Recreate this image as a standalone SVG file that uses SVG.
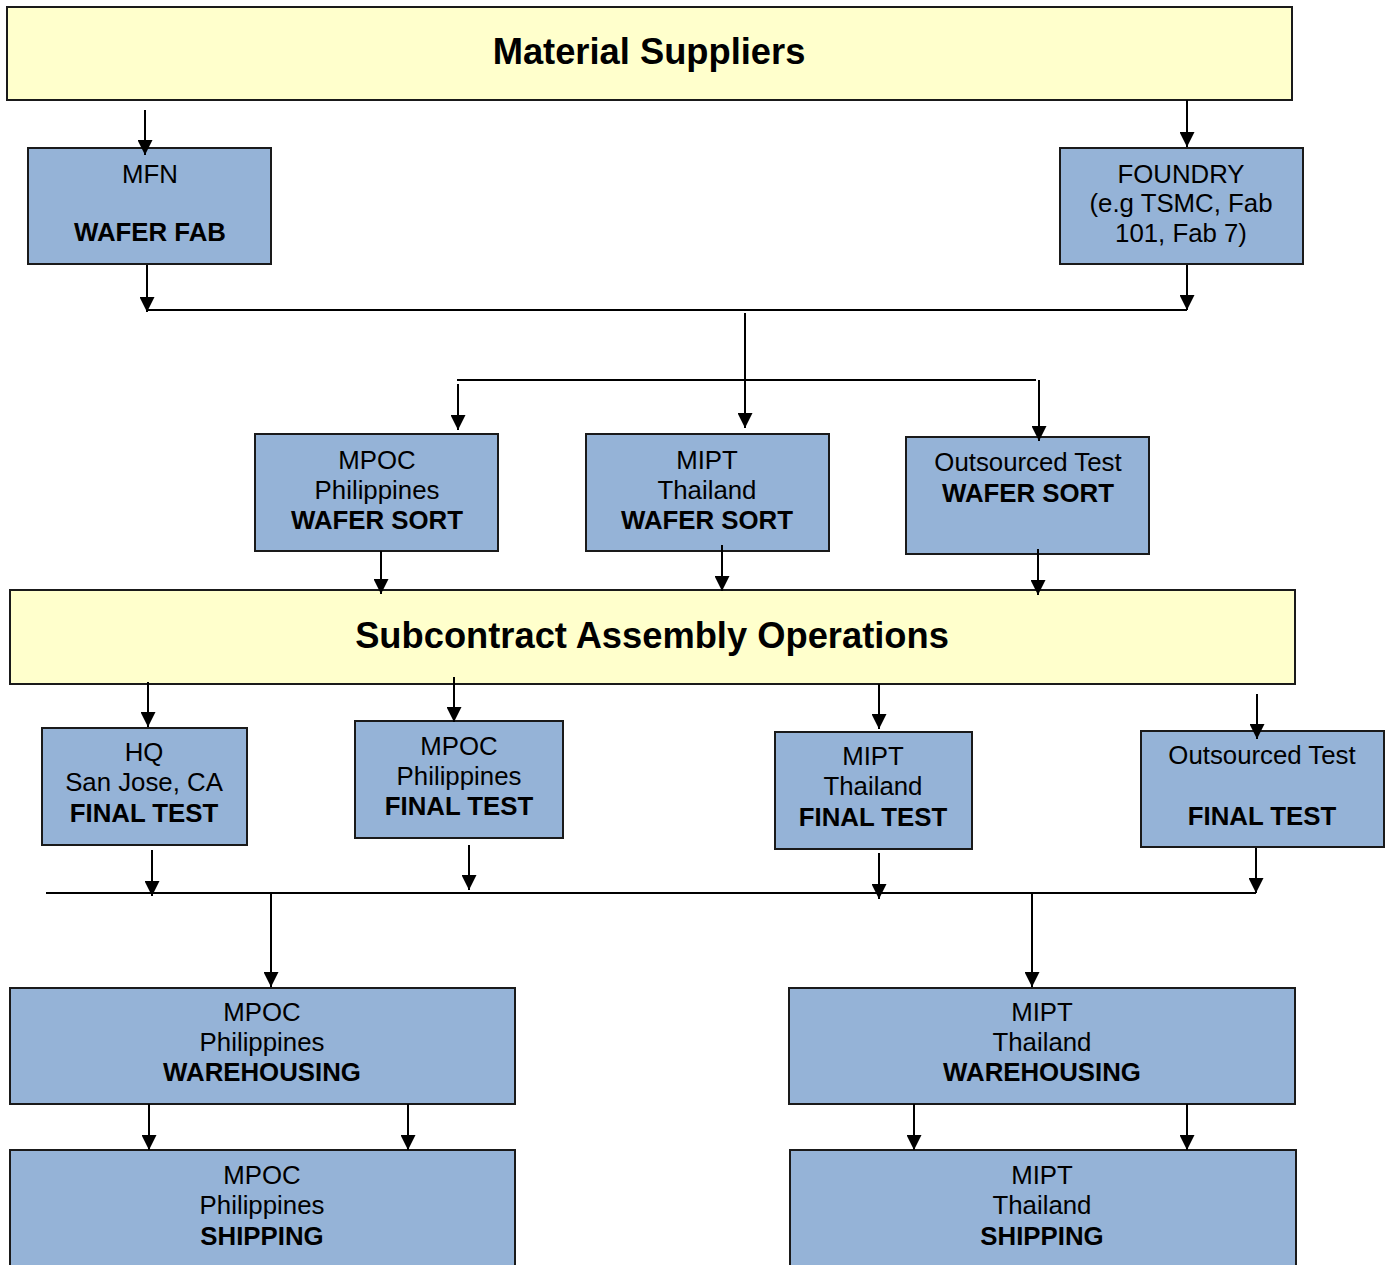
<svg xmlns="http://www.w3.org/2000/svg" width="1390" height="1265" viewBox="0 0 1390 1265">
<defs>
<marker id="ah" markerUnits="userSpaceOnUse" markerWidth="15" markerHeight="15" refX="15" refY="7.5" orient="auto">
<path d="M0,0 L15,7.5 L0,15 z" fill="#000"/>
</marker>
<style>
.band{fill:#FFFFCC;stroke:#1a1a1a;stroke-width:2}
.box{fill:#95B3D7;stroke:#1a1a1a;stroke-width:2}
text{font-family:"Liberation Sans",Arial,sans-serif;font-size:25.8px;fill:#000;text-anchor:middle}
.b{font-weight:bold}
.title{font-weight:bold;font-size:36.3px}
.c line,.c path{stroke:#000;stroke-width:2;fill:none}
.a{marker-end:url(#ah)}
</style>
</defs>
<rect width="1390" height="1265" fill="#fff"/>

<g id="material-suppliers">
<rect class="band" x="7" y="7" width="1285" height="93"/>
<text class="title" x="649" y="64">Material Suppliers</text>
</g>

<g id="mfn">
<rect class="box" x="28" y="148" width="243" height="116"/>
<text x="150" y="183">MFN</text>
<text class="b" x="150" y="241">WAFER FAB</text>
</g>

<g id="foundry">
<rect class="box" x="1060" y="148" width="243" height="116"/>
<text x="1181" y="183">FOUNDRY</text>
<text x="1181" y="212">(e.g TSMC, Fab</text>
<text x="1181" y="242">101, Fab 7)</text>
</g>

<g id="mpoc-wafer-sort">
<rect class="box" x="255" y="434" width="243" height="117"/>
<text x="377" y="469">MPOC</text>
<text x="377" y="499">Philippines</text>
<text class="b" x="377" y="529">WAFER SORT</text>
</g>

<g id="mipt-wafer-sort">
<rect class="box" x="586" y="434" width="243" height="117"/>
<text x="707" y="469">MIPT</text>
<text x="707" y="499">Thailand</text>
<text class="b" x="707" y="529">WAFER SORT</text>
</g>

<g id="outsourced-wafer-sort">
<rect class="box" x="906" y="437" width="243" height="117"/>
<text x="1028" y="471">Outsourced Test</text>
<text class="b" x="1028" y="502">WAFER SORT</text>
</g>

<g id="subcontract-assembly">
<rect class="band" x="10" y="590" width="1285" height="94"/>
<text class="title" x="652" y="648">Subcontract Assembly Operations</text>
</g>

<g id="hq-final-test">
<rect class="box" x="42" y="728" width="205" height="117"/>
<text x="144" y="761">HQ</text>
<text x="144" y="791">San Jose, CA</text>
<text class="b" x="144" y="822">FINAL TEST</text>
</g>

<g id="mpoc-final-test">
<rect class="box" x="355" y="721" width="208" height="117"/>
<text x="459" y="755">MPOC</text>
<text x="459" y="785">Philippines</text>
<text class="b" x="459" y="815">FINAL TEST</text>
</g>

<g id="mipt-final-test">
<rect class="box" x="775" y="732" width="197" height="117"/>
<text x="873" y="765">MIPT</text>
<text x="873" y="795">Thailand</text>
<text class="b" x="873" y="826">FINAL TEST</text>
</g>

<g id="outsourced-final-test">
<rect class="box" x="1141" y="731" width="243" height="116"/>
<text x="1262" y="764">Outsourced Test</text>
<text class="b" x="1262" y="825">FINAL TEST</text>
</g>

<g id="mpoc-warehousing">
<rect class="box" x="10" y="988" width="505" height="116"/>
<text x="262" y="1021">MPOC</text>
<text x="262" y="1051">Philippines</text>
<text class="b" x="262" y="1081">WAREHOUSING</text>
</g>

<g id="mipt-warehousing">
<rect class="box" x="789" y="988" width="506" height="116"/>
<text x="1042" y="1021">MIPT</text>
<text x="1042" y="1051">Thailand</text>
<text class="b" x="1042" y="1081">WAREHOUSING</text>
</g>

<g id="mpoc-shipping">
<rect class="box" x="10" y="1150" width="505" height="130"/>
<text x="262" y="1184">MPOC</text>
<text x="262" y="1214">Philippines</text>
<text class="b" x="262" y="1245">SHIPPING</text>
</g>

<g id="mipt-shipping">
<rect class="box" x="790" y="1150" width="506" height="130"/>
<text x="1042" y="1184">MIPT</text>
<text x="1042" y="1214">Thailand</text>
<text class="b" x="1042" y="1245">SHIPPING</text>
</g>

<g id="connectors" class="c">
<line class="a" x1="145" y1="110" x2="145" y2="155"/>
<line class="a" x1="1187" y1="100" x2="1187" y2="147"/>
<line class="a" x1="147" y1="265" x2="147" y2="312"/>
<line class="a" x1="1187" y1="265" x2="1187" y2="310"/>
<line x1="147" y1="310" x2="1187" y2="310"/>
<line class="a" x1="745" y1="313" x2="745" y2="428"/>
<line x1="457" y1="380" x2="1036" y2="380"/>
<line class="a" x1="458" y1="384" x2="458" y2="430"/>
<line class="a" x1="1039" y1="380" x2="1039" y2="441"/>
<line class="a" x1="381" y1="551" x2="381" y2="594"/>
<line class="a" x1="722" y1="545" x2="722" y2="591"/>
<line class="a" x1="1038" y1="549" x2="1038" y2="595"/>
<line class="a" x1="148" y1="682" x2="148" y2="727"/>
<line class="a" x1="454" y1="677" x2="454" y2="722"/>
<line class="a" x1="879" y1="684" x2="879" y2="729"/>
<line class="a" x1="1257" y1="694" x2="1257" y2="739"/>
<line class="a" x1="152" y1="850" x2="152" y2="896"/>
<line class="a" x1="469" y1="845" x2="469" y2="890"/>
<line class="a" x1="879" y1="853" x2="879" y2="899"/>
<line class="a" x1="1256" y1="848" x2="1256" y2="893"/>
<line x1="46" y1="893" x2="1256" y2="893"/>
<line class="a" x1="271" y1="894" x2="271" y2="987"/>
<line class="a" x1="1032" y1="894" x2="1032" y2="987"/>
<line class="a" x1="149" y1="1104" x2="149" y2="1150"/>
<line class="a" x1="408" y1="1104" x2="408" y2="1150"/>
<line class="a" x1="914" y1="1104" x2="914" y2="1150"/>
<line class="a" x1="1187" y1="1104" x2="1187" y2="1150"/>
</g>
</svg>
